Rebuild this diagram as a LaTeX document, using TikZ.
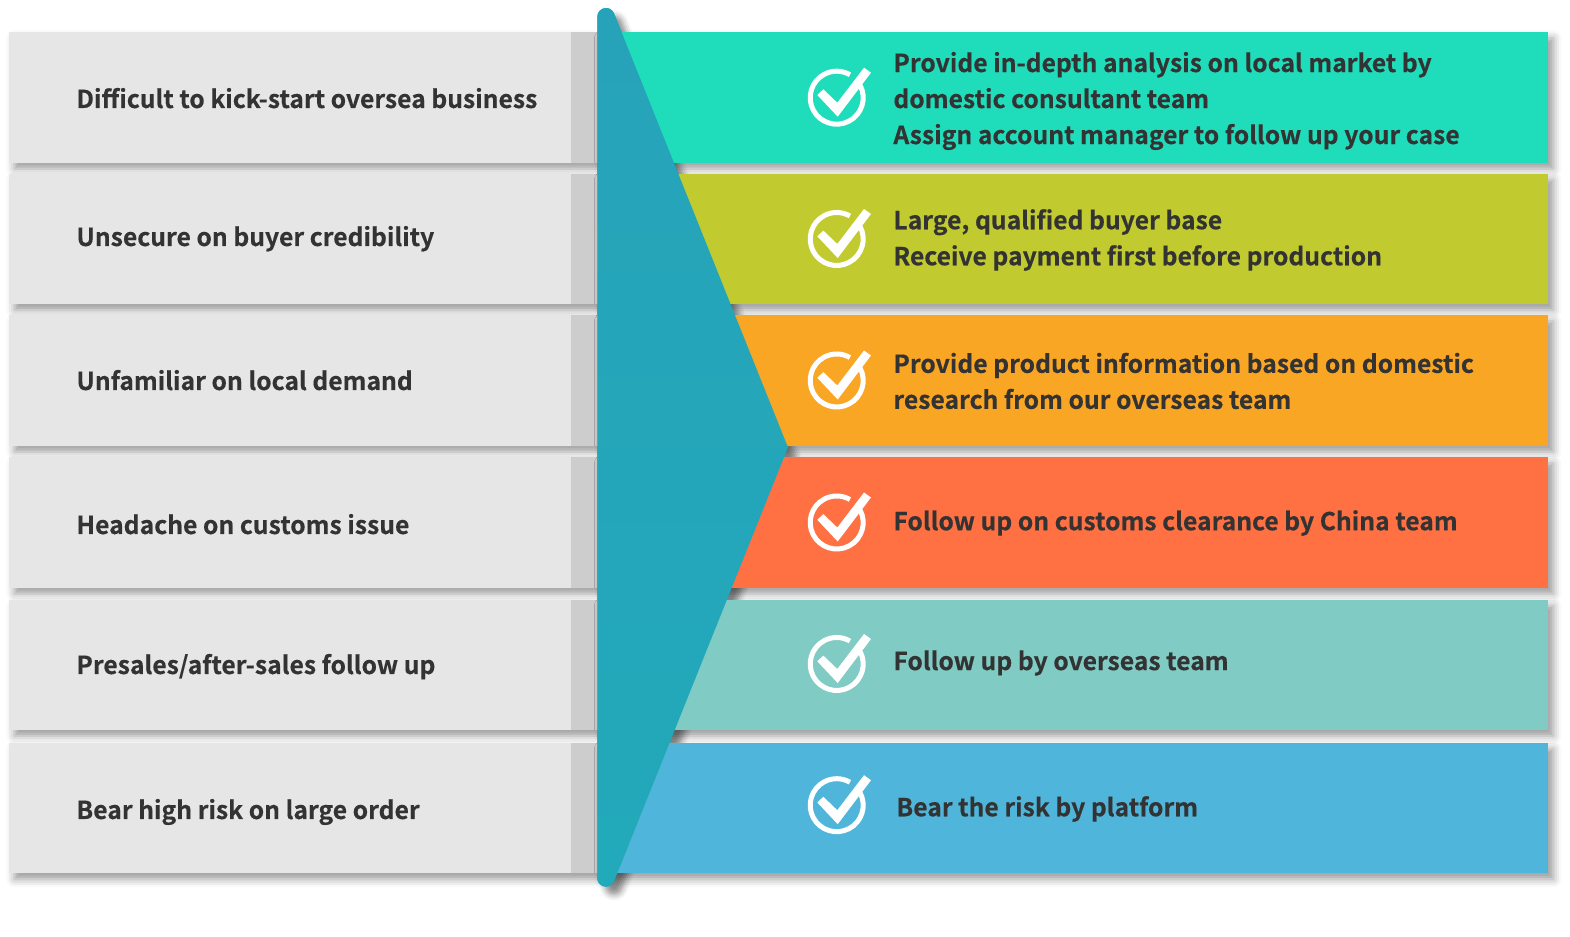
\documentclass[tikz,border=0pt]{standalone}
\usepackage{fontspec}
\setmainfont{Noto Sans CJK SC}[BoldFont={* Bold},BoldFeatures={FakeBold=0.3}]
\usetikzlibrary{positioning,shadows.blur}
\definecolor{boxgray}{HTML}{E6E6E6}
\definecolor{tabgray}{HTML}{CDCDCD}
\definecolor{inkgray}{HTML}{333333}
\definecolor{funneltop}{HTML}{27A3B9}
\definecolor{funnelbot}{HTML}{22A9BA}
\definecolor{rowteal}{HTML}{1FDDBB}
\definecolor{rowolive}{HTML}{C1CB30}
\definecolor{roworange}{HTML}{FAA625}
\definecolor{rowred}{HTML}{FF7043}
\definecolor{rowmint}{HTML}{80CBC4}
\definecolor{rowblue}{HTML}{4FB5DA}
\newcommand{\funnelpath}{(597.3,920.3) arc (180:21.9:4.35pt) -- (788,489.6) -- (614.07,55.75) arc (-21.9:-180:4.35pt) -- cycle}
\tikzset{
    rowshadow/.style={blur shadow={shadow xshift=2.5pt,shadow yshift=-3pt,shadow blur radius=4pt,shadow opacity=40}},
    leftbox/.style={fill=boxgray, minimum width=294pt, minimum height=65.15pt, inner sep=0pt, anchor=north west, rowshadow},
    tabbox/.style={fill=tabgray, minimum width=13.5pt, minimum height=65.15pt, inner sep=0pt, anchor=north west},
    rightbox/.style={minimum width=475.5pt, minimum height=65.15pt, inner sep=0pt, anchor=north west, rowshadow},
    lefttext/.style={text=inkgray, font=\bfseries\fontsize{12.35}{18}\selectfont, anchor=base west, inner sep=0pt},
    righttext/.style={text=inkgray, font=\bfseries\fontsize{12.35}{18}\selectfont, anchor=west, align=left, inner sep=0pt},
    pics/tickmark/.style={code={
        \draw[white, line width=2.5pt] (28:13.25pt) arc (28:-300:13.25pt);
        \fill[white] (-19.4,2.7) -- (-13.4,8.4) -- (0.6,-5) -- (27.3,30) -- (34.3,25) -- (1,-19) -- cycle;
    }}
}
\begin{document}
\begin{tikzpicture}[x=0.5pt,y=0.5pt]
    \useasboundingbox (0,0) rectangle (1570,937);

    % Problems
    \node[leftbox] (left1) at (9,905) {};
    \node[leftbox] (left2) at (9,763.5) {};
    \node[leftbox] (left3) at (9,622) {};
    \node[leftbox] (left4) at (9,480) {};
    \node[leftbox] (left5) at (9,337.7) {};
    \node[leftbox] (left6) at (9,194.5) {};

    \node[tabbox] (tab1) at (571,905) {};
    \node[tabbox] (tab2) at (571,763.5) {};
    \node[tabbox] (tab3) at (571,622) {};
    \node[tabbox] (tab4) at (571,480) {};
    \node[tabbox] (tab5) at (571,337.7) {};
    \node[tabbox] (tab6) at (571,194.5) {};

    \node[lefttext] (ltext1) at (76,829) {Difficult to kick-start oversea business};
    \node[lefttext] (ltext2) at (76,691) {Unsecure on buyer credibility};
    \node[lefttext] (ltext3) at (76,547) {Unfamiliar on local demand};
    \node[lefttext] (ltext4) at (76,403) {Headache on customs issue};
    \node[lefttext] (ltext5) at (76,263) {Presales/after-sales follow up};
    \node[lefttext] (ltext6) at (76,118) {Bear high risk on large order};

    % Shadow of the funnel
    \path[fill=funneltop, blur shadow={shadow xshift=4pt,shadow yshift=-4pt,shadow blur radius=3pt,shadow opacity=45}] \funnelpath;

    % Answers
    \node[rightbox, fill=rowteal] (right1) at (597,905) {};
    \node[rightbox, fill=rowolive] (right2) at (597,763.5) {};
    \node[rightbox, fill=roworange] (right3) at (597,622) {};
    \node[rightbox, fill=rowred] (right4) at (597,480) {};
    \node[rightbox, fill=rowmint] (right5) at (597,337.7) {};
    \node[rightbox, fill=rowblue] (right6) at (597,194.5) {};

    % Funnel
    \path[top color=funneltop, bottom color=funnelbot] \funnelpath;

    \pic (tick1) at (836.7,839.3) {tickmark};
    \pic (tick2) at (836.7,698) {tickmark};
    \pic (tick3) at (836.7,556.5) {tickmark};
    \pic (tick4) at (836.7,414.5) {tickmark};
    \pic (tick5) at (836.7,273) {tickmark};
    \pic (tick6) at (836.7,131.8) {tickmark};

    \node[righttext] (rtext1) at (893,836) {Provide in-depth analysis on local market by\\domestic consultant team\\Assign account manager to follow up your case};
    \node[righttext] (rtext2) at (893,697) {Large, qualified buyer base\\Receive payment first before production};
    \node[righttext] (rtext3) at (893,556) {Provide product information based on domestic\\research from our overseas team};
    \node[righttext] (rtext4) at (893,414) {Follow up on customs clearance by China team};
    \node[righttext] (rtext5) at (893,274) {Follow up by overseas team};
    \node[righttext] (rtext6) at (896,128) {Bear the risk by platform};

\end{tikzpicture}
\end{document}
